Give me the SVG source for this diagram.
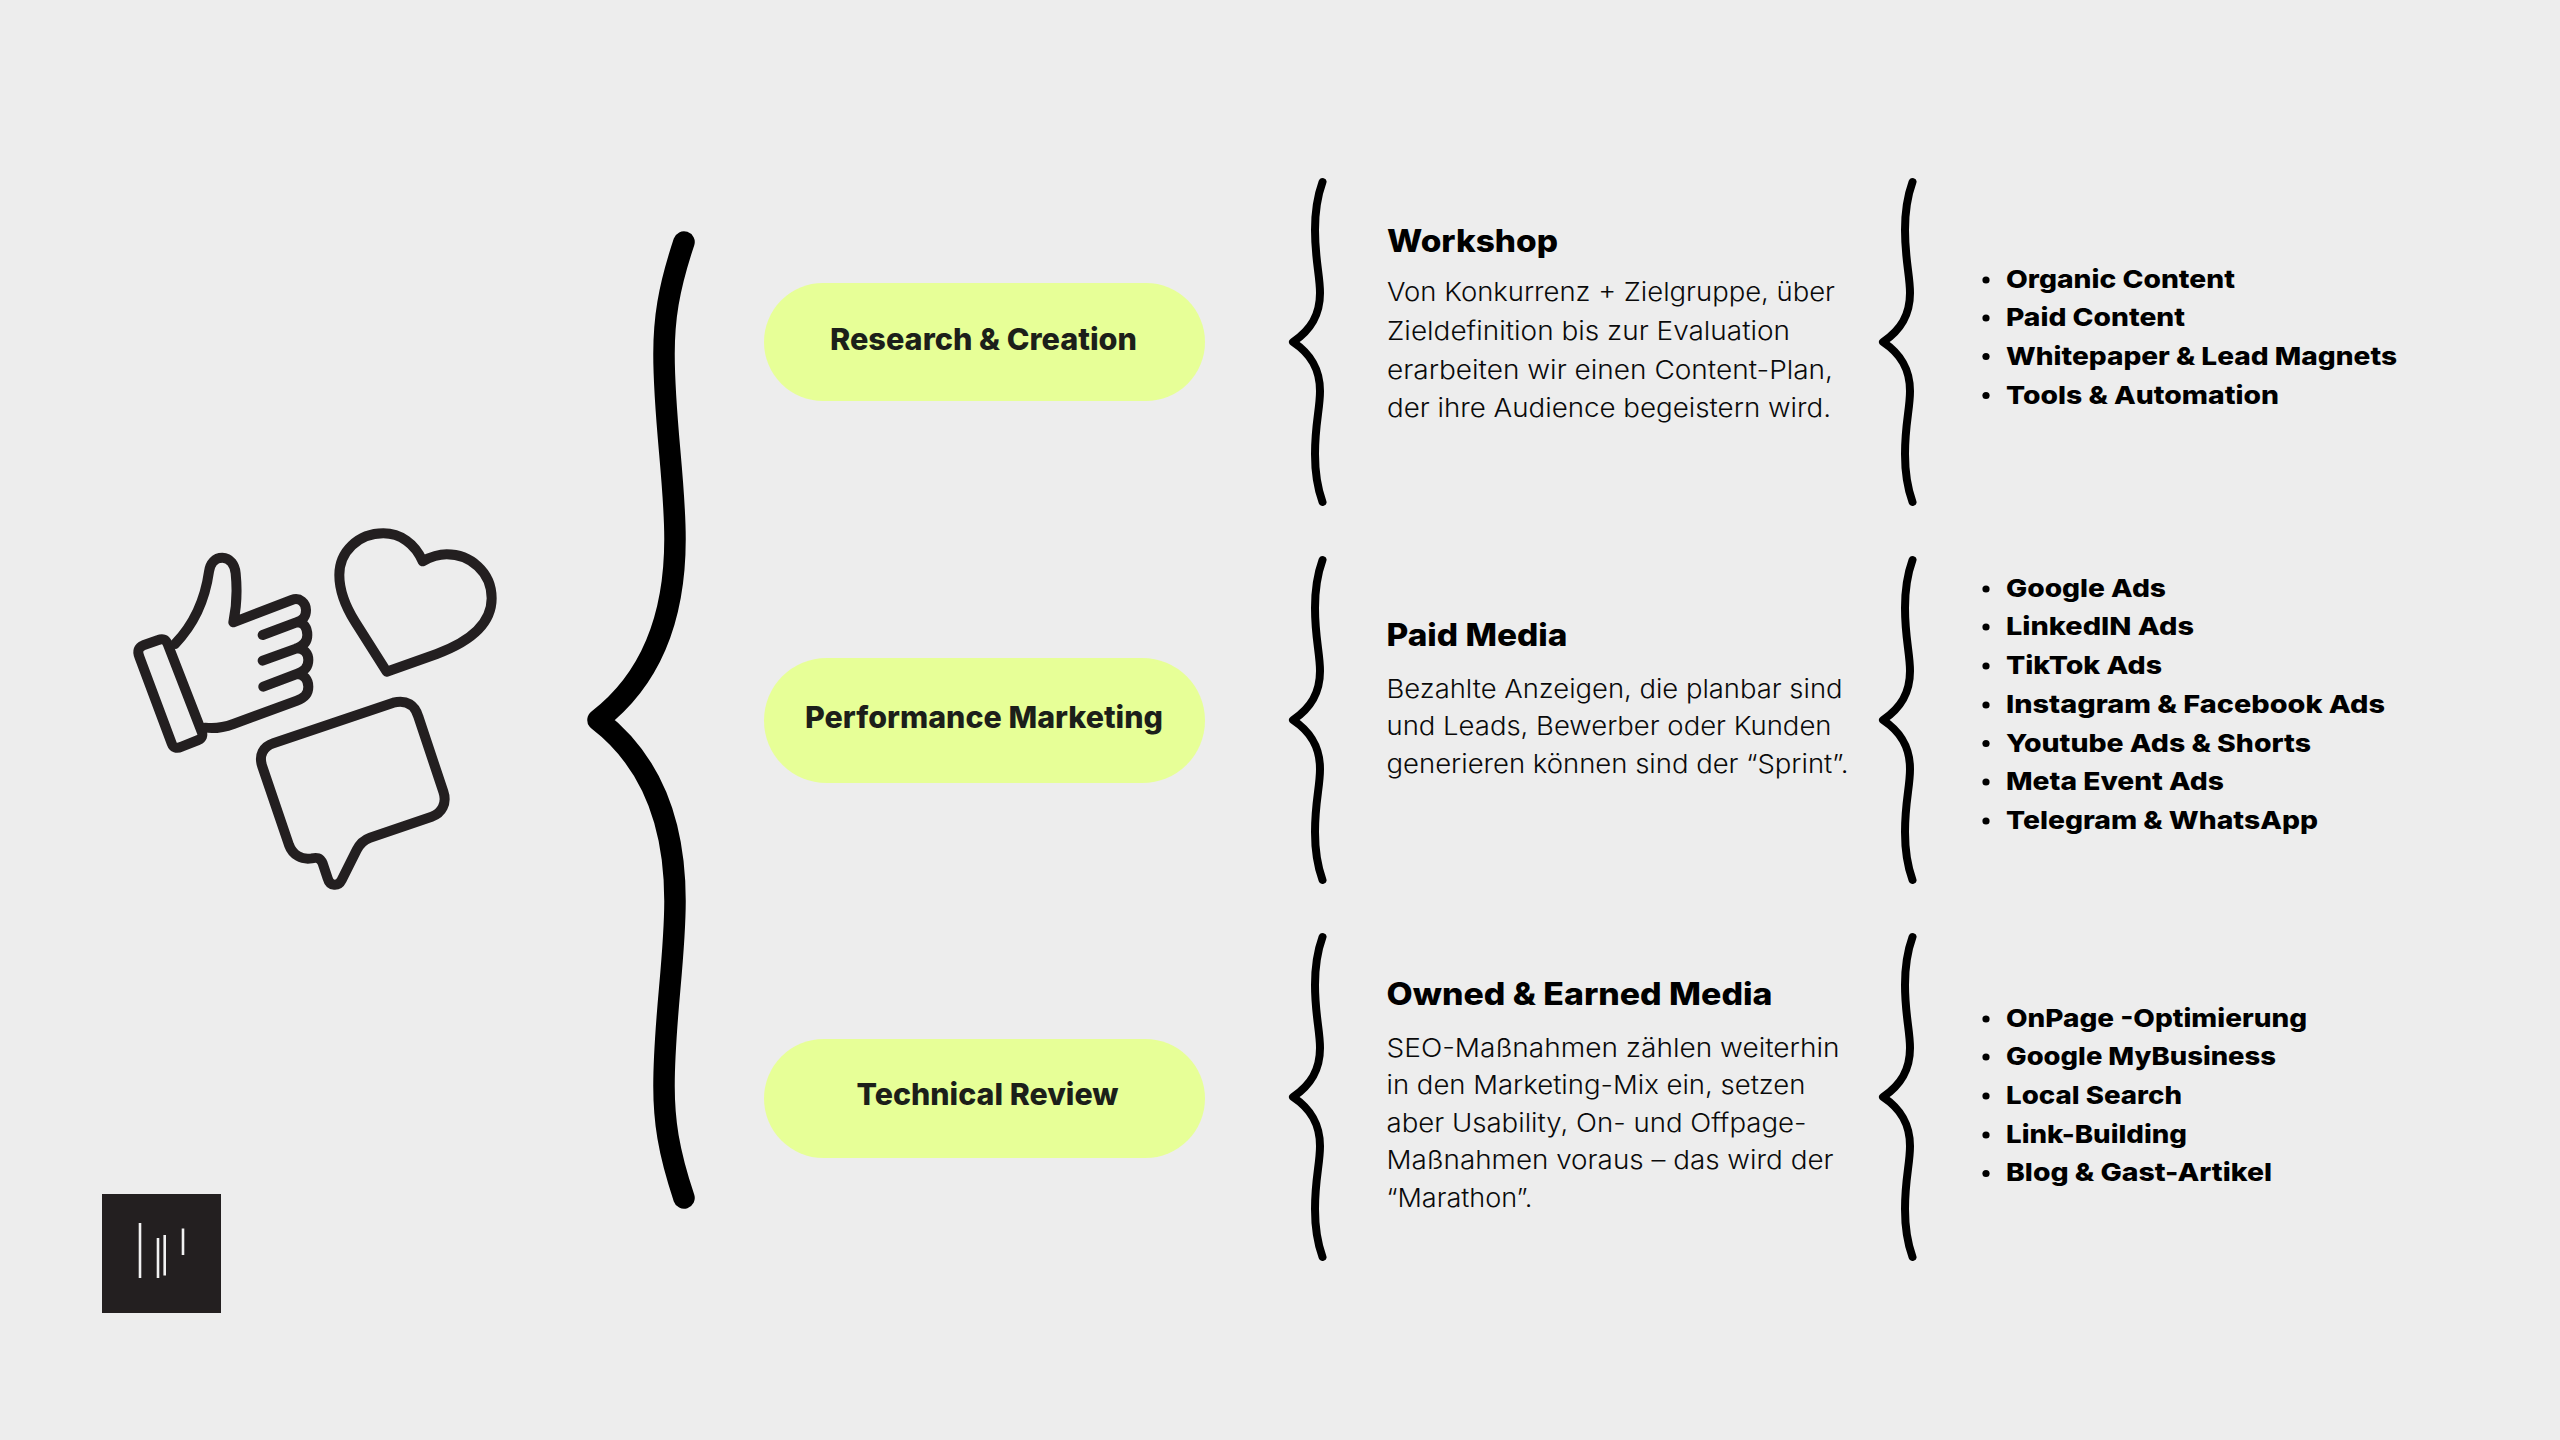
<svg xmlns="http://www.w3.org/2000/svg" width="2560" height="1440" viewBox="0 0 2560 1440">
<style>
.b{fill:none;stroke:#000;stroke-linecap:round;stroke-linejoin:round}
.big{stroke-width:21.500}
.sm{stroke-width:8}
.ic{fill:none;stroke:#231f20;stroke-width:30;stroke-linecap:round;stroke-linejoin:round}
.pill{fill:#e7ff97}
.pt{font-family:Inter,"Liberation Sans",sans-serif;font-weight:800;font-size:30px;fill:#1c1f1a}
.h{font-family:Inter,"Liberation Sans",sans-serif;font-weight:800;font-size:31px;fill:#000}
.t{font-family:Inter,"Liberation Sans",sans-serif;font-weight:300;font-size:26px;fill:#0a0a0a}
.l{font-family:Inter,"Liberation Sans",sans-serif;font-weight:800;font-size:25px;fill:#000}
.lg{stroke:#f2f2f2;stroke-width:2.6}
</style>
<defs>
<path id="sb" class="b sm" d="M29.500 -160 C23 -142 22 -127 22 -112 C22 -82 27 -67 27 -49 C27 -27 18 -12 0 0 C18 12 27 27 27 49 C27 67 22 82 22 112 C22 127 23 142 29.500 160"/>
</defs>
<rect width="2560" height="1440" fill="#ededed"/>
<g id="connectors">
<path class="b big" d="M684 242 C668 290 664 320 664 354 C664 420 675 480 675 539 C675 620 650 680 598 720 C650 760 675 820 675 901 C675 960 664 1020 664 1086 C664 1120 668 1150 684 1198"/>
<use href="#sb" x="1293" y="342"/>
<use href="#sb" x="1883" y="342"/>
<use href="#sb" x="1293" y="720"/>
<use href="#sb" x="1883" y="720"/>
<use href="#sb" x="1293" y="1097"/>
<use href="#sb" x="1883" y="1097"/>
</g>
<g id="icon-thumb" transform="translate(100 500) scale(.33333)">
<path class="ic" d="M130 436 L175 420 Q195 412 203 432 L305 695 Q312 712 295 720 L245 740 Q222 750 215 730 L118 470 Q108 445 130 436Z"/>
<path class="ic" d="M225 432 C280 375 315 300 327 215 C330 190 345 173 367 173 C390 173 405 195 407 220 C412 270 410 320 400 367 L575 300 C600 290 618 310 618 330 C618 350 610 360 590 367 L488 405 M590 367 C612 365 622 385 622 405 C622 425 612 437 590 445 L488 482 M590 445 C612 445 625 460 625 480 C625 505 610 515 590 522 L490 560 M590 522 C612 522 625 540 625 560 C625 585 610 595 590 602 L400 672 C370 683 345 687 315 683"/>
</g>
<g id="icon-heart" transform="translate(100 500) scale(.33333)">
<path class="ic" d="M860 515 L1010 462 C1110 425 1175 370 1175 295 C1175 215 1110 163 1040 163 C1015 163 990 172 968 184 C945 130 900 100 850 100 C775 100 718 155 718 225 C718 280 740 325 765 365 Z"/>
</g>
<g id="icon-bubble" transform="translate(100 500) scale(.33333)">
<path class="ic" d="M520 730 L880 608 C920 598 945 615 955 650 L1030 875 C1042 910 1025 940 995 950 L810 1013 C790 1020 780 1030 770 1050 L725 1140 C715 1160 690 1160 683 1135 L668 1090 C660 1072 650 1072 635 1075 C605 1080 578 1065 567 1035 L487 800 C475 765 490 740 520 730Z"/>
</g>
<g id="logo">
<rect x="102" y="1194" width="119" height="119" fill="#231f20"/>
<path class="lg" d="M140 1223V1278M158 1238V1278M164.700 1235V1275.500M183 1228.500V1255"/>
</g>
<g id="pill-research">
<rect class="pill" x="764" y="283" width="441" height="118" rx="59"/>
<text class="pt" x="830" y="350" textLength="307" lengthAdjust="spacingAndGlyphs">Research &amp; Creation</text>
</g>
<g id="pill-performance">
<rect class="pill" x="764" y="658" width="441" height="125" rx="62.500"/>
<text class="pt" x="805" y="728" textLength="358" lengthAdjust="spacingAndGlyphs">Performance Marketing</text>
</g>
<g id="pill-technical">
<rect class="pill" x="764" y="1039" width="441" height="119" rx="59.500"/>
<text class="pt" x="856.500" y="1105" textLength="262" lengthAdjust="spacingAndGlyphs">Technical Review</text>
</g>
<g id="workshop">
<text class="h" x="1387" y="252" textLength="171" lengthAdjust="spacingAndGlyphs">Workshop</text>
<text class="t" x="1387" y="301" textLength="448" lengthAdjust="spacingAndGlyphs">Von Konkurrenz + Zielgruppe, über</text>
<text class="t" x="1387" y="340" textLength="403" lengthAdjust="spacingAndGlyphs">Zieldefinition bis zur Evaluation</text>
<text class="t" x="1387" y="378.500" textLength="446" lengthAdjust="spacingAndGlyphs">erarbeiten wir einen Content-Plan,</text>
<text class="t" x="1387" y="417" textLength="444" lengthAdjust="spacingAndGlyphs">der ihre Audience begeistern wird.</text>
</g>
<g id="paid-media">
<text class="h" x="1386.500" y="646" textLength="181" lengthAdjust="spacingAndGlyphs">Paid Media</text>
<text class="t" x="1386.500" y="698" textLength="456" lengthAdjust="spacingAndGlyphs">Bezahlte Anzeigen, die planbar sind</text>
<text class="t" x="1386.500" y="735" textLength="445" lengthAdjust="spacingAndGlyphs">und Leads, Bewerber oder Kunden</text>
<text class="t" x="1386.500" y="772.500" textLength="462" lengthAdjust="spacingAndGlyphs">generieren können sind der “Sprint”.</text>
</g>
<g id="owned-media">
<text class="h" x="1386.500" y="1005" textLength="386" lengthAdjust="spacingAndGlyphs">Owned &amp; Earned Media</text>
<text class="t" x="1386.500" y="1056.500" textLength="453" lengthAdjust="spacingAndGlyphs">SEO-Maßnahmen zählen weiterhin</text>
<text class="t" x="1386.500" y="1094" textLength="419" lengthAdjust="spacingAndGlyphs">in den Marketing-Mix ein, setzen</text>
<text class="t" x="1386.500" y="1131.500" textLength="420" lengthAdjust="spacingAndGlyphs">aber Usability, On- und Offpage-</text>
<text class="t" x="1386.500" y="1169" textLength="447" lengthAdjust="spacingAndGlyphs">Maßnahmen voraus – das wird der</text>
<text class="t" x="1386.500" y="1206.500" textLength="146" lengthAdjust="spacingAndGlyphs">“Marathon”.</text>
</g>
<g id="list-content">
<circle cx="1986" cy="280" r="3.600"/><circle cx="1986" cy="318" r="3.600"/><circle cx="1986" cy="356.500" r="3.600"/><circle cx="1986" cy="395.500" r="3.600"/>
<text class="l" x="2006" y="288" textLength="229" lengthAdjust="spacingAndGlyphs">Organic Content</text>
<text class="l" x="2006" y="326" textLength="179" lengthAdjust="spacingAndGlyphs">Paid Content</text>
<text class="l" x="2006" y="364.500" textLength="391" lengthAdjust="spacingAndGlyphs">Whitepaper &amp; Lead Magnets</text>
<text class="l" x="2006" y="403.500" textLength="273" lengthAdjust="spacingAndGlyphs">Tools &amp; Automation</text>
</g>
<g id="list-paid">
<circle cx="1986" cy="589" r="3.600"/><circle cx="1986" cy="627" r="3.600"/><circle cx="1986" cy="666" r="3.600"/><circle cx="1986" cy="705" r="3.600"/><circle cx="1986" cy="743.500" r="3.600"/><circle cx="1986" cy="782" r="3.600"/><circle cx="1986" cy="821" r="3.600"/>
<text class="l" x="2006" y="597" textLength="160" lengthAdjust="spacingAndGlyphs">Google Ads</text>
<text class="l" x="2006" y="635" textLength="188" lengthAdjust="spacingAndGlyphs">LinkedIN Ads</text>
<text class="l" x="2006" y="674" textLength="156" lengthAdjust="spacingAndGlyphs">TikTok Ads</text>
<text class="l" x="2006" y="713" textLength="379" lengthAdjust="spacingAndGlyphs">Instagram &amp; Facebook Ads</text>
<text class="l" x="2006" y="751.500" textLength="305" lengthAdjust="spacingAndGlyphs">Youtube Ads &amp; Shorts</text>
<text class="l" x="2006" y="790" textLength="218" lengthAdjust="spacingAndGlyphs">Meta Event Ads</text>
<text class="l" x="2006" y="829" textLength="312" lengthAdjust="spacingAndGlyphs">Telegram &amp; WhatsApp</text>
</g>
<g id="list-owned">
<circle cx="1986" cy="1019" r="3.600"/><circle cx="1986" cy="1057" r="3.600"/><circle cx="1986" cy="1096" r="3.600"/><circle cx="1986" cy="1135" r="3.600"/><circle cx="1986" cy="1173.500" r="3.600"/>
<text class="l" x="2006" y="1027" textLength="301" lengthAdjust="spacingAndGlyphs">OnPage -Optimierung</text>
<text class="l" x="2006" y="1065" textLength="270" lengthAdjust="spacingAndGlyphs">Google MyBusiness</text>
<text class="l" x="2006" y="1104" textLength="176" lengthAdjust="spacingAndGlyphs">Local Search</text>
<text class="l" x="2006" y="1143" textLength="181" lengthAdjust="spacingAndGlyphs">Link-Building</text>
<text class="l" x="2006" y="1181" textLength="266" lengthAdjust="spacingAndGlyphs">Blog &amp; Gast-Artikel</text>
</g>
</svg>
